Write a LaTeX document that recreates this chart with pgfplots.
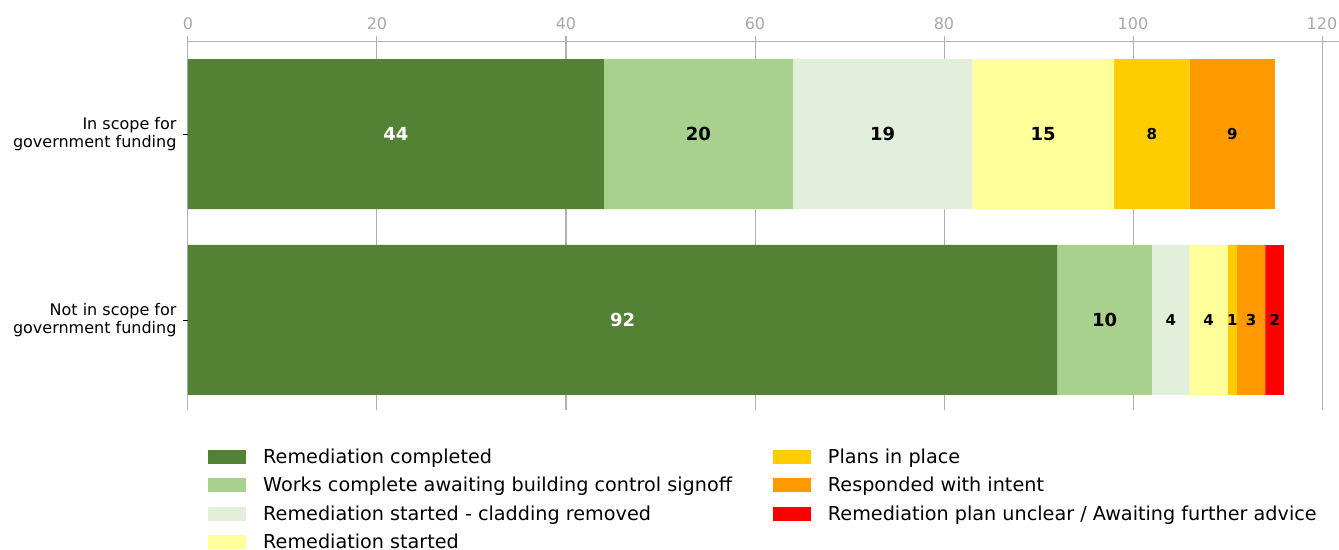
\documentclass[border=0pt]{standalone}
\usepackage{pgfplots}
\pgfplotsset{compat=1.18}
\usepackage{fontspec}
\setmainfont{DejaVu Sans}
\definecolor{c1}{HTML}{548235}
\definecolor{c2}{HTML}{A9D18E}
\definecolor{c3}{HTML}{E2EFDA}
\definecolor{c4}{HTML}{FFFF99}
\definecolor{c5}{HTML}{FFCC00}
\definecolor{c6}{HTML}{FF9900}
\definecolor{c7}{HTML}{FF0000}
\definecolor{gridc}{HTML}{B0B0B0}
\definecolor{tickc}{HTML}{A8A8A8}
\begin{document}
\begin{tikzpicture}
\path[use as bounding box] (0,0) rectangle (1339pt,-549pt);
\begin{axis}[
  at={(188pt,-41pt)}, anchor=north west,
  scale only axis, width=1151pt, height=369pt,
  xmin=0, xmax=121.8, ymin=-0.5, ymax=1.484,
  y dir=reverse,
  xbar stacked, bar width=150pt,
  axis x line*=top, axis y line*=left,
  y axis line style={draw=none},
  x axis line style={draw=gridc, line width=1pt},
  xtick={0,20,...,120},
  xmajorgrids, grid style={draw=gridc, line width=1pt},
  tick align=outside,
  x tick style={draw=gridc, line width=1pt},
  major tick length=5pt,
  y tick style={draw=black, line width=0.6pt},
  /pgf/number format/assume math mode=true,
  xticklabel style={text=tickc, font=\fontsize{16}{18}\selectfont, yshift=3pt},
  ytick={0,1},
  yticklabels={In scope for\\government funding, Not in scope for\\government funding},
  yticklabel style={align=right, font=\fontsize{16}{18}\selectfont, xshift=-3pt},
  visualization depends on={rawx \as \rawx},
  nodes near coords={\ifdim\rawx pt=0pt\else\bfseries\ifdim\rawx pt<10pt\fontsize{15}{15}\selectfont\else\fontsize{18}{18}\selectfont\fi\pgfmathprintnumber{\rawx}\fi},
  every node near coord/.append style={anchor=center, text=black},
  legend image code/.code={\fill[#1] (0pt,-7pt) rectangle (38pt,7pt);},
  legend columns=2,
  legend cell align=left,
  legend style={draw=none, fill=none, at={(0.0174,-0.0986)}, anchor=north west,
    font=\fontsize{19.2}{22}\selectfont, inner sep=0pt, row sep=8.5pt,
    /tikz/every odd column/.style={column sep=15pt},
    /tikz/every even column/.style={column sep=39pt}},
]
\addplot+[fill=c1, draw=none, forget plot, every node near coord/.append style={text=white}] coordinates {(44,0) (92,1)};
\addplot+[fill=c2, draw=none, forget plot] coordinates {(20,0) (10,1)};
\addplot+[fill=c3, draw=none, forget plot] coordinates {(19,0) (4,1)};
\addplot+[fill=c4, draw=none, forget plot] coordinates {(15,0) (4,1)};
\addplot+[fill=c5, draw=none, forget plot] coordinates {(8,0) (1,1)};
\addplot+[fill=c6, draw=none, forget plot] coordinates {(9,0) (3,1)};
\addplot+[fill=c7, draw=none, forget plot] coordinates {(0,0) (2,1)};
\addlegendimage{fill=c1, draw=none}\addlegendentry{Remediation completed}
\addlegendimage{fill=c5, draw=none}\addlegendentry{Plans in place}
\addlegendimage{fill=c2, draw=none}\addlegendentry{Works complete awaiting building control signoff}
\addlegendimage{fill=c6, draw=none}\addlegendentry{Responded with intent}
\addlegendimage{fill=c3, draw=none}\addlegendentry{Remediation started - cladding removed}
\addlegendimage{fill=c7, draw=none}\addlegendentry{Remediation plan unclear / Awaiting further advice}
\addlegendimage{fill=c4, draw=none}\addlegendentry{Remediation started}
\end{axis}
\end{tikzpicture}
\end{document}
